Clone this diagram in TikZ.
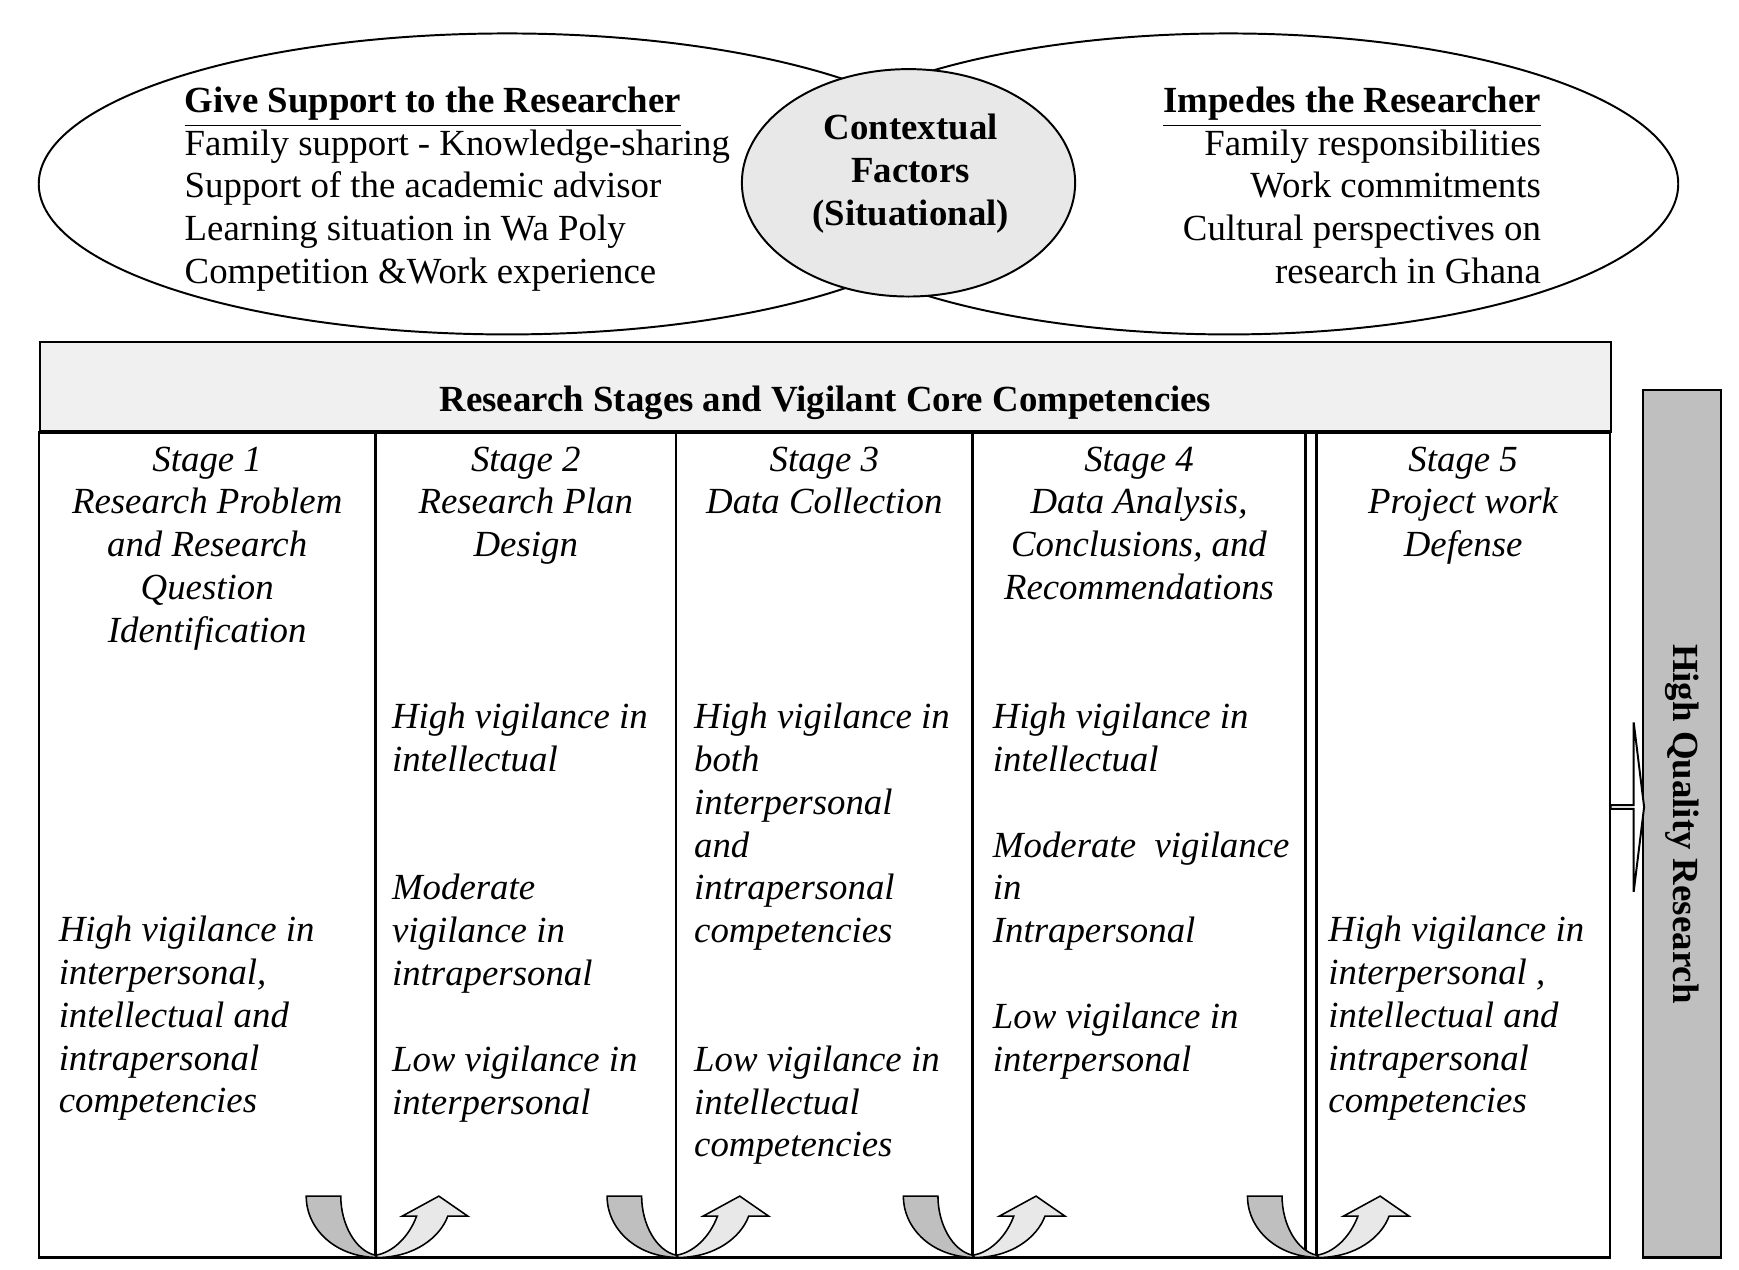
\documentclass[tikz,border=0pt]{standalone}
\usepackage{fontspec}
\setmainfont{Liberation Serif}
\usetikzlibrary{shapes,shapes.arrows,positioning,calc}
\newcommand{\figfont}{\fontsize{9.4}{10.93}\selectfont}
\tikzset{
	factor/.style={
		ellipse,
		draw=black,
		fill=white,
		line width=0.5pt,
		minimum height=27mm,
	},
	stagebox/.style={
		rectangle,
		draw=black,
		line width=0.6pt,
		minimum height=74mm,
		inner sep=0pt,
		outer sep=0pt,
	},
	stagehead/.style={
		align=center,
		font=\figfont\itshape,
		inner sep=0pt,
	},
	vigil/.style={
		align=left,
		anchor=north west,
		font=\figfont\itshape,
		inner sep=0pt,
	},
}

\begin{document}
\begin{tikzpicture}[x=0.1mm, y=-0.1mm, font=\figfont]

	\tikzstyle{hdr}=[rectangle,draw=black,line width=0.6pt,fill=gray!12,minimum width=140.9mm,text height=6.2mm,text depth=1.8mm,inner sep=0pt,font=\figfont\bfseries]
	\tikzstyle{qbar}=[rectangle,draw=black,line width=0.6pt,fill=gray!50,rotate=-90,minimum width=77.8mm,minimum height=7mm,inner sep=0pt,font=\figfont\bfseries]
	\tikzstyle{outarrow}=[single arrow,draw=black,line width=0.5pt,fill=white,minimum width=15.2mm,minimum height=3mm,single arrow head extend=3.85mm,single arrow tip angle=166,inner sep=0pt]

	\useasboundingbox (0,0) rectangle (1560,1139);

	\node [factor, minimum width=84.05mm] (supp) at (455,165) {};
	\node [factor, minimum width=80.7mm] (imp) at (1102,165) {};
	\node [factor, fill=gray!18, minimum width=29.9mm, minimum height=20.4mm] (ctx) at (815,164) {};
	\node [align=center, inner sep=0pt, font=\figfont\bfseries] (ctxlab) at ($(ctx.center)+(2,-8)$) {Contextual\\Factors\\(Situational)};

	\node [align=left, anchor=north west, inner sep=0pt] (supplist) at (165,77) {\textbf{\underline{Give Support to the Researcher}}\\Family support - Knowledge-sharing\\Support of the academic advisor\\Learning situation in Wa Poly\\Competition \&Work experience};
	\node [align=right, anchor=north east, inner sep=0pt] (implist) at (1383,77) {\textbf{\underline{Impedes the Researcher}}\\Family responsibilities\\Work commitments\\Cultural perspectives on\\research in Ghana};

	\node [stagebox, anchor=north west, minimum width=30.17mm] (c1) at (35,388) {};
	\node [stagebox, minimum width=26.99mm, right=0pt of c1] (c2) {};
	\node [stagebox, minimum width=26.58mm, right=0pt of c2] (c3) {};
	\node [stagebox, minimum width=29.88mm, right=0pt of c3] (c4) {};
	\node [stagebox, minimum width=26.29mm, right=0.99mm of c4] (c5) {};
	\draw [line width=0.6pt] (c1.north west) rectangle (c5.south east);
	\node [hdr, anchor=south west] (hdr) at (c1.north west) {Research Stages and Vigilant Core Competencies};

	\node [stagehead, below=1.2mm of c1.north] (s1) {Stage 1\\Research Problem\\and Research\\Question\\Identification};
	\node [stagehead, below=1.2mm of c2.north] (s2) {Stage 2\\Research Plan\\Design};
	\node [stagehead, below=1.2mm of c3.north] (s3) {Stage 3\\Data Collection};
	\node [stagehead, below=1.2mm of c4.north] (s4) {Stage 4\\Data Analysis,\\Conclusions, and\\Recommendations};
	\node [stagehead, below=1.2mm of c5.north] (s5) {Stage 5\\Project work\\Defense};

	\node [vigil] (v1) at (52,821) {High vigilance in\\interpersonal,\\intellectual and\\intrapersonal\\competencies};
	\node [vigil] (v2) at (351,630) {High vigilance in\\intellectual\\[21.86pt]Moderate\\vigilance in\\intrapersonal\\[10.93pt]Low vigilance in\\interpersonal};
	\node [vigil] (v3) at (622,630) {High vigilance in\\both\\interpersonal\\and\\intrapersonal\\competencies\\[21.86pt]Low vigilance in\\intellectual\\competencies};
	\node [vigil] (v4) at (890,630) {High vigilance in\\intellectual\\[10.93pt]Moderate\ \ vigilance\\in\\Intrapersonal\\[10.93pt]Low vigilance in\\interpersonal};
	\node [vigil] (v5) at (1191,821) {High vigilance in\\interpersonal ,\\intellectual and\\intrapersonal\\competencies};

	\node [qbar] (hq) at (1509,739) {High Quality Research};
	\node [outarrow, anchor=tail] (go) at ($(c5.east)+(0,-34)$) {};

	\foreach \c in {c2,c3,c4,c5} {
		\begin{scope}[shift={(\c.south west)}]
			\draw [fill=gray!50] (2,0) .. controls (-35,0) and (-62,-25) .. (-62,-55) -- (-31,-55) .. controls (-31,-30) and (-18,-6) .. (0,-2) -- cycle;
			\draw [fill=gray!18] (2,0) .. controls (35,0) and (58,-18) .. (65,-37) -- (83,-37) -- (57,-55) -- (24,-37) -- (37,-37) .. controls (30,-18) and (15,-4) .. (0,-2) -- cycle;
		\end{scope}
	}
\end{tikzpicture}
\end{document}
